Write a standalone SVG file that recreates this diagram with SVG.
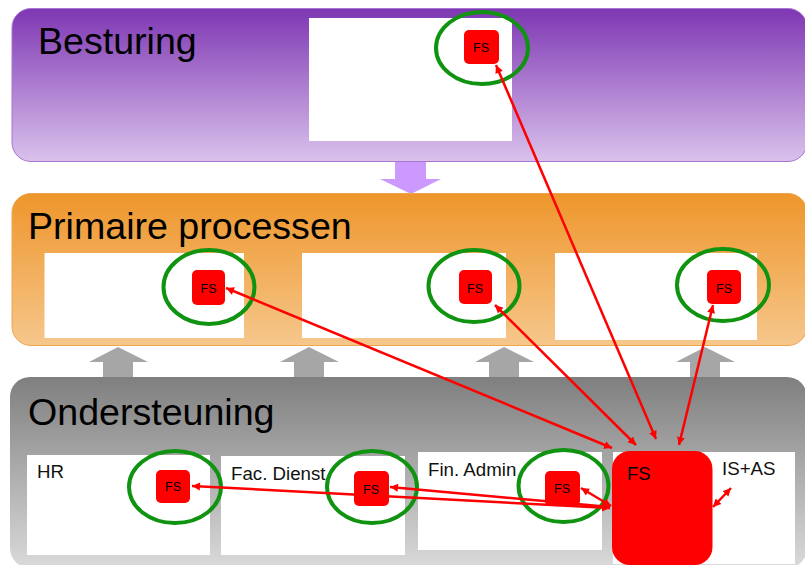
<svg xmlns="http://www.w3.org/2000/svg" width="805" height="565" viewBox="0 0 805 565">
<style>
text{font-family:"Liberation Sans",Arial,sans-serif;fill:#000}
.title{font-size:37.6px}
.lbl{font-size:18.700px;fill:#111}
.box{fill:#fff}
.fs{fill:#f00}
.fst{font-size:12.5px;text-anchor:middle}
.ring{fill:none;stroke:#0f9310;stroke-width:4}
.up{fill:#a6a6a6}
.c{stroke:#f00;stroke-width:2.500;fill:none;marker-end:url(#a)}
.cs{marker-start:url(#as)}
</style>
<defs>
<linearGradient id="gp" x1="0" y1="0" x2="0" y2="1"><stop offset="0" stop-color="#7e37b3"/><stop offset="1" stop-color="#dac2ec"/></linearGradient>
<linearGradient id="go" x1="0" y1="0" x2="0" y2="1"><stop offset="0" stop-color="#ee962b"/><stop offset="1" stop-color="#f6c78c"/></linearGradient>
<linearGradient id="gg" x1="0" y1="0" x2="0" y2="1"><stop offset="0" stop-color="#7f7f7f"/><stop offset="1" stop-color="#dadada"/></linearGradient>
<marker id="a" markerUnits="userSpaceOnUse" markerWidth="10" markerHeight="10" refX="8" refY="4" orient="auto"><path d="M0 0L8 4L0 8z" fill="#f00"/></marker>
<marker id="as" markerUnits="userSpaceOnUse" markerWidth="10" markerHeight="10" refX="0" refY="4" orient="auto"><path d="M8 0L0 4L8 8z" fill="#f00"/></marker>
</defs>
<rect width="805" height="565" fill="#fff"/>
<g id="flow-arrows">
<path d="M395 161H426V179H441L411 194L380 179H395z" fill="#cc99ff"/>
<path class="up" d="M103 378V362H89L118 347L148 362H133V378z"/>
<path class="up" d="M294 378V362H280L309 347L339 362H324V378z"/>
<path class="up" d="M489 378V362H475L504 347L534 362H519V378z"/>
<path class="up" d="M690 378V362H676L705 347L735 362H720V378z"/>
</g>
<g id="besturing">
<rect x="12" y="8.500" width="795" height="153" rx="19" fill="url(#gp)" stroke="#a875d0"/>
<text class="title" x="38" y="54">Besturing</text>
<rect class="box" x="309" y="18" width="203" height="123"/>
</g>
<g id="primaire">
<rect x="12" y="193.500" width="795" height="152" rx="19" fill="url(#go)" stroke="#eda650"/>
<text class="title" x="28" y="239">Primaire processen</text>
<rect class="box" x="44.500" y="253" width="199.500" height="85"/>
<rect class="box" x="302" y="253" width="204" height="85"/>
<rect class="box" x="555" y="253" width="202" height="87"/>
</g>
<g id="ondersteuning">
<rect x="10" y="377" width="797" height="191" rx="20" fill="url(#gg)"/>
<text class="title" x="28" y="425">Ondersteuning</text>
</g>
<g id="hr"><rect class="box" x="27" y="455" width="183" height="100"/><text class="lbl" x="37" y="478">HR</text></g>
<g id="fac"><rect class="box" x="221" y="456" width="184" height="99"/><text class="lbl" x="231" y="480">Fac. Dienst</text></g>
<g id="fin"><rect class="box" x="418" y="452" width="184" height="98"/><text class="lbl" x="428" y="476">Fin. Admin</text></g>
<g id="isas"><rect class="box" x="613" y="452" width="182" height="112"/><text class="lbl" x="722" y="475">IS+AS</text></g>
<g id="fs-main"><rect class="fs" x="612" y="451" width="100.500" height="114" rx="18"/><text x="627" y="480" font-size="18.500">FS</text></g>
<g id="fs-besturing"><rect class="fs" x="464" y="30" width="35" height="34" rx="5"/><text class="fst" x="481" y="52">FS</text><ellipse class="ring" cx="482" cy="48" rx="46" ry="36"/></g>
<g id="fs-p1"><rect class="fs" x="192" y="270" width="33" height="35" rx="5"/><text class="fst" x="208.500" y="293">FS</text><ellipse class="ring" cx="209" cy="287" rx="45.500" ry="37"/></g>
<g id="fs-p2"><rect class="fs" x="459" y="270" width="33" height="34" rx="5"/><text class="fst" x="475" y="293">FS</text><ellipse class="ring" cx="474" cy="286" rx="45.500" ry="36"/></g>
<g id="fs-p3"><rect class="fs" x="707" y="270" width="34" height="34" rx="5"/><text class="fst" x="724" y="293">FS</text><ellipse class="ring" cx="723" cy="285" rx="46" ry="36"/></g>
<g id="fs-hr"><rect class="fs" x="156" y="470" width="34" height="33" rx="5"/><text class="fst" x="173" y="491">FS</text><ellipse class="ring" cx="175" cy="487" rx="46" ry="36"/></g>
<g id="fs-fac"><rect class="fs" x="354" y="471" width="35" height="35" rx="5"/><text class="fst" x="371" y="494">FS</text><ellipse class="ring" cx="372" cy="487" rx="45" ry="36"/></g>
<g id="fs-fin"><rect class="fs" x="545" y="471" width="35" height="35" rx="5"/><text class="fst" x="562" y="493">FS</text><ellipse class="ring" cx="563.500" cy="486" rx="45" ry="36"/></g>
<g id="connectors">
<path class="c cs" d="M496 65L656 439"/>
<path class="c cs" d="M226 288L612 448"/>
<path class="c cs" d="M495 305L636 445"/>
<path class="c cs" d="M713 305L679 445"/>
<path class="c cs" d="M192 486L610 508"/>
<path class="c cs" d="M390 487L610 507"/>
<path class="c cs" d="M581 488L611 506"/>
<path class="c cs" d="M713 507L731 488"/>
</g>
</svg>
